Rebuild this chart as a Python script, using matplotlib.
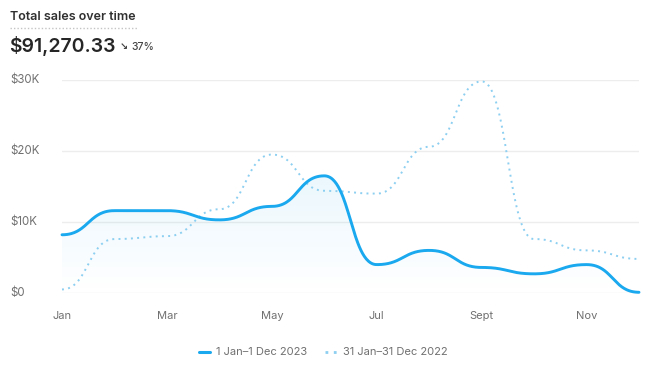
import matplotlib
matplotlib.use("Agg")
import matplotlib.pyplot as plt
import numpy as np
from matplotlib.colors import LinearSegmentedColormap

plt.rcParams['font.family'] = ['Inter', 'DejaVu Sans']

months = np.arange(12)
tick_labels = ["Jan", "Mar", "May", "Jul", "Sept", "Nov"]
tick_months = [0, 2, 4, 6, 8, 10]
sales_2023 = [8200, 11600, 11600, 10300, 12200, 16500, 4000, 6000, 3600, 2700, 4000, 100]
sales_2022 = [500, 7600, 8000, 11800, 19500, 14400, 14000, 20600, 29800, 7600, 6000, 4800]
y_ticks = [0, 10000, 20000, 30000]
y_labels = ["$0", "$10K", "$20K", "$30K"]

SOLID = "#1aa8ee"
DOTTED = "#8ccff1"
GREY = "#707070"


def bump_x(x, y, n=60):
    # bezier curve with horizontal control points at segment midpoints
    x = np.asarray(x, float)
    y = np.asarray(y, float)
    t = np.linspace(0, 1, n)
    xs, ys = [], []
    for i in range(len(x) - 1):
        xm = (x[i] + x[i + 1]) / 2
        px = [x[i], xm, xm, x[i + 1]]
        py = [y[i], y[i], y[i + 1], y[i + 1]]
        b = [(1 - t)**3, 3 * (1 - t)**2 * t, 3 * (1 - t) * t**2, t**3]
        xs.append(sum(bi * p for bi, p in zip(b, px)))
        ys.append(sum(bi * p for bi, p in zip(b, py)))
    return np.concatenate(xs), np.concatenate(ys)


W, H = 654, 378
fig = plt.figure(figsize=(W / 100, H / 100), dpi=100)
ax = fig.add_axes([62 / W, 1 - 293 / H, (639 - 62) / W, (293 - 80) / H])

xs1, ys1 = bump_x(months, sales_2023)
xs2, ys2 = bump_x(months, sales_2022)

# gradient fill under the current series
poly = ax.fill_between(xs1, ys1, 0, color="none", lw=0)
cmap = LinearSegmentedColormap.from_list("g", [(0.1, 0.66, 0.93, 0.0), (0.1, 0.66, 0.93, 0.09)])
grad = np.linspace(0, 1, 256).reshape(-1, 1)
img = ax.imshow(grad, cmap=cmap, aspect="auto", origin="lower",
                extent=[0, 11, 0, max(sales_2023)], zorder=1)
img.set_clip_path(poly.get_paths()[0], transform=ax.transData)

ax.plot(xs2, ys2, color=DOTTED, lw=1.4, ls=(0, (1, 2.2)), zorder=2, clip_on=False)
ax.plot(xs1, ys1, color=SOLID, lw=2.1, zorder=3, clip_on=False, solid_capstyle="round")

ax.set_xlim(0, 11)
ax.set_ylim(0, 30000)
ax.set_yticks(y_ticks)
ax.set_yticklabels([])
ax.set_xticks(tick_months)
ax.set_xticklabels(tick_labels, color=GREY, fontsize=8)
ax.tick_params(axis="x", length=0, pad=13)
ax.tick_params(axis="y", length=0)
ax.grid(axis="y", color="#ededed", lw=1)
ax.set_axisbelow(True)
for sp in ax.spines.values():
    sp.set_visible(False)
ax.set_facecolor("none")

label_tf = matplotlib.transforms.blended_transform_factory(fig.transFigure, ax.transData)
for v, lab in zip(y_ticks, y_labels):
    ax.text(10 / W, v, lab, transform=label_tf, ha="left", va="center", color=GREY, fontsize=8.3)

# header
fig.text(10 / W, 1 - 17 / H, "Total sales over time", ha="left", va="center",
         fontsize=9, fontweight="semibold", color="#303030")
fig.lines.append(plt.Line2D([10 / W, 137 / W], [1 - 28 / H, 1 - 28 / H], transform=fig.transFigure,
                            color="#c4c4c4", lw=1, ls=(0, (1, 1.5))))
fig.text(9 / W, 1 - 46 / H, "$91,270.33", ha="left", va="center",
         fontsize=14, fontweight="semibold", color="#262626")
fig.text(120 / W, 1 - 47 / H, "↘", ha="left", va="center", fontsize=7, color="#444444",
         family=["DejaVu Sans"], fontweight="bold")
fig.text(131 / W, 1 - 47 / H, "37%", ha="left", va="center", fontsize=7.5, color="#444444",
         fontweight="medium")

# legend
ly = 1 - 352 / H
fig.lines.append(plt.Line2D([199 / W, 210 / W], [ly, ly], transform=fig.transFigure,
                            color=SOLID, lw=2.2, solid_capstyle="round"))
fig.text(216 / W, ly, "1 Jan–1 Dec 2023", ha="left", va="center", fontsize=8, color=GREY)
fig.lines.append(plt.Line2D([325 / W, 337 / W], [ly, ly], transform=fig.transFigure,
                            color=DOTTED, lw=2, ls=(0, (1, 2))))
fig.text(343 / W, ly, "31 Jan–31 Dec 2022", ha="left", va="center", fontsize=8, color=GREY)

fig.savefig("out.png", dpi=100)
